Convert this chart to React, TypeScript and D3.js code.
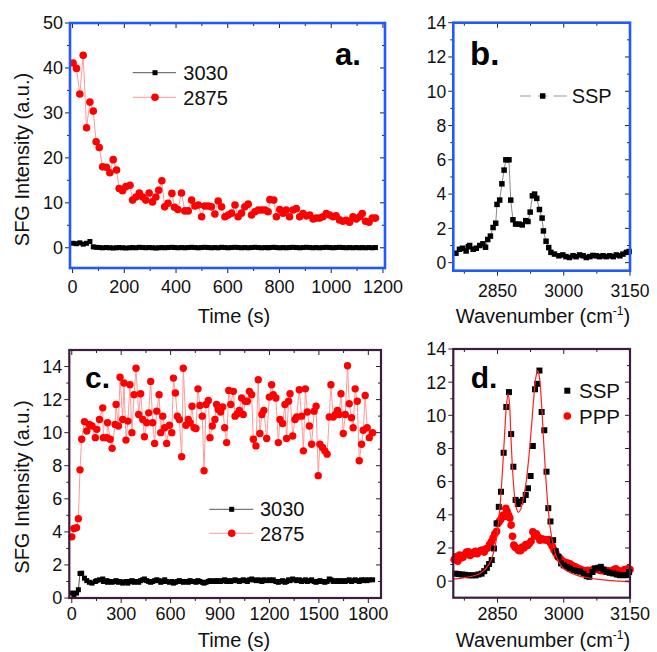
import React from "react";
import * as d3 from "d3";

const FONT = "'Liberation Sans', Arial, Helvetica, sans-serif";
const BLUE = "#2159ff";
const PURPLE = "#3e1c3e";

// ---- panel a: time trace (s) ----
const timeA = [
  2, 15, 28, 41, 54, 67, 80, 91, 103, 116,
  131, 144, 157, 170, 180, 193, 206, 222, 232, 245,
  258, 271, 283, 296, 309, 322, 333, 345, 356, 369,
  384, 394, 407, 421, 434, 447, 460, 473, 486, 499,
  511, 524, 537, 550, 563, 576, 589, 602, 615, 628,
  640, 653, 666, 679, 692, 705, 718, 731, 744, 756,
  763, 778, 788, 801, 814, 826, 839, 852, 865, 878,
  891, 904, 917, 930, 942, 955, 968, 981, 994, 1007,
  1019, 1032, 1045, 1058, 1071, 1084, 1097, 1110, 1120, 1133,
  1146, 1159, 1171,
];
const a2875 = [
  41.1, 39.9, 34.2, 42.8, 26.7, 32.4, 30.4, 23.6, 22.3, 18.0,
  17.9, 16.7, 19.6, 17.3, 13.2, 12.7, 13.6, 13.9, 10.6, 11.3,
  12.2, 11.3, 10.6, 12.2, 10.2, 11.3, 12.8, 14.9, 9.1, 9.9,
  12.1, 9.0, 8.5, 12.2, 8.2, 8.2, 10.6, 9.3, 9.5, 6.9,
  9.3, 9.3, 9.1, 7.5, 10.4, 9.1, 6.9, 7.3, 7.7, 9.5,
  6.9, 7.7, 9.1, 9.7, 7.3, 8.0, 8.4, 8.4, 8.4, 8.0,
  10.7, 10.6, 6.9, 8.5, 7.7, 8.4, 6.9, 8.4, 8.7, 6.9,
  7.6, 7.1, 7.3, 6.4, 6.6, 6.6, 6.9, 7.6, 7.3, 6.9,
  7.1, 6.2, 5.9, 6.1, 5.7, 6.9, 6.4, 6.9, 7.6, 5.9,
  5.7, 6.6, 6.6,
];
const a3030 = [
  1.0, 0.9, 1.1, 0.8, 1.0, 1.4, 0.2, 0.1, 0.05, 0.0,
  0.05, 0.0, -0.05, 0.0, 0.05, 0.0, -0.05, 0.0, 0.05, 0.0,
  0.1, 0.05, 0.0, 0.05, 0.0, -0.05, 0.0, 0.05, 0.0, 0.05,
  0.1, 0.05, 0.0, 0.05, 0.0, 0.05, 0.1, 0.05, 0.0, 0.05,
  0.1, 0.05, 0.0, 0.05, 0.0, 0.1, 0.05, 0.0, 0.05, 0.1,
  0.05, 0.0, 0.05, 0.0, 0.05, 0.1, 0.05, 0.0, 0.05, 0.0,
  0.05, 0.1, 0.05, 0.0, 0.05, 0.0, 0.05, 0.1, 0.05, 0.0,
  0.05, 0.1, 0.05, 0.0, 0.05, 0.0, 0.05, 0.1, 0.05, 0.0,
  0.05, 0.1, 0.05, 0.0, 0.05, 0.0, 0.05, 0.0, 0.05, 0.0,
  0.05, 0.0, 0.05,
];

// ---- panel b: SSP spectrum [wavenumber, intensity] ----
const bSSP: [number, number][] = [
  [2756, 0.55], [2764, 0.78], [2771, 0.84], [2779, 0.68], [2784, 0.93], [2787, 1.0],
  [2795, 0.78], [2802, 0.84], [2810, 1.0], [2817, 1.1], [2823, 0.9], [2828, 1.35],
  [2834, 1.55], [2840, 2.05], [2846, 2.3], [2849, 3.4], [2855, 3.65], [2860, 4.6],
  [2865, 5.4], [2869, 6.0], [2876, 6.0], [2880, 3.65], [2885, 2.5], [2891, 2.25],
  [2899, 2.25], [2906, 2.2], [2914, 2.45], [2919, 2.4], [2924, 2.95], [2929, 3.9],
  [2934, 4.0], [2939, 3.75], [2945, 3.1], [2951, 2.6], [2954, 1.85], [2960, 1.25],
  [2966, 0.88], [2971, 0.6], [2979, 0.5], [2989, 0.4], [2998, 0.45], [3005, 0.35],
  [3013, 0.3], [3021, 0.4], [3028, 0.35], [3036, 0.45], [3044, 0.4], [3051, 0.3],
  [3059, 0.35], [3066, 0.42], [3074, 0.4], [3081, 0.35], [3089, 0.4], [3096, 0.35],
  [3104, 0.4], [3112, 0.35], [3119, 0.45], [3127, 0.4], [3134, 0.5], [3142, 0.6],
  [3148, 0.65],
];

// ---- panel c: time trace [s, intensity] ----
const c2875: [number, number][] = [
  [0, 3.7], [13, 4.2], [29, 4.25], [40, 4.8], [50, 7.75], [60, 9.6], [77, 10.67], [91, 10.1], [107, 10.5], [123, 10.4],
  [143, 9.7], [152, 10.2], [168, 10.8], [188, 11.5], [192, 9.7], [213, 9.7], [217, 10.6], [233, 9.6], [245, 9.05], [263, 10.5],
  [269, 11.7], [283, 10.4], [293, 13.35], [309, 10.8], [317, 13.0], [329, 9.55], [341, 10.7], [353, 12.9], [365, 10.0], [378, 12.3],
  [390, 13.9], [406, 11.1], [418, 12.35], [431, 10.8], [441, 9.75], [455, 10.6], [467, 11.2], [479, 13.1], [491, 10.6], [503, 9.35],
  [516, 11.3], [530, 12.3], [540, 10.0], [552, 11.0], [564, 10.3], [576, 9.35], [593, 10.45], [607, 10.0], [617, 13.3], [629, 12.4],
  [641, 11.0], [653, 10.8], [667, 8.55], [677, 13.9], [693, 10.45], [707, 10.8], [718, 10.6], [730, 11.6], [742, 10.3], [754, 10.25],
  [766, 12.65], [778, 11.65], [792, 11.0], [803, 7.7], [815, 11.7], [829, 11.95], [839, 9.7], [853, 10.4], [869, 10.8], [879, 11.7],
  [889, 11.4], [904, 11.25], [916, 11.55], [928, 10.3], [940, 9.4], [953, 12.55], [965, 11.7], [981, 12.5], [991, 11.0], [1005, 11.15],
  [1017, 11.35], [1031, 12.1], [1041, 11.1], [1053, 11.9], [1066, 11.9], [1078, 12.5], [1092, 12.3], [1102, 9.6], [1118, 9.2], [1132, 13.2],
  [1142, 9.95], [1154, 11.1], [1166, 11.35], [1183, 9.65], [1199, 12.15], [1213, 12.9], [1223, 12.3], [1239, 12.1], [1254, 9.4], [1264, 10.8],
  [1280, 10.55], [1294, 11.7], [1304, 9.65], [1316, 11.9], [1325, 12.35], [1341, 9.8], [1355, 10.8], [1365, 10.95], [1381, 12.6], [1395, 11.0],
  [1406, 8.9], [1418, 12.65], [1430, 11.25], [1442, 10.4], [1456, 9.3], [1471, 11.3], [1483, 11.6], [1496, 7.4], [1506, 9.3], [1522, 9.1],
  [1536, 8.9], [1550, 8.7], [1563, 10.95], [1573, 12.9], [1587, 10.95], [1601, 11.1], [1613, 11.35], [1623, 11.1], [1634, 12.35], [1648, 9.95],
  [1660, 11.1], [1674, 14.05], [1684, 11.75], [1698, 10.9], [1708, 10.3], [1720, 12.65], [1733, 11.9], [1745, 8.3], [1759, 9.3], [1769, 10.15],
  [1781, 12.25], [1793, 10.3], [1806, 9.7], [1826, 10.0],
];
// same time grid as c2875
const c3030 = [
  0.3, 0.15, 0.3, 0.5, 1.48, 1.5, 1.2, 1.05, 0.95, 0.9,
  1.0, 1.05, 1.1, 1.15, 1.0, 1.05, 0.95, 1.0, 0.95, 1.0,
  1.05, 0.95, 1.0, 0.9, 0.95, 1.0, 0.9, 1.0, 1.05, 0.95,
  1.0, 0.95, 1.05, 1.1, 1.15, 1.05, 1.0, 0.95, 1.0, 1.05,
  1.1, 1.05, 0.95, 1.0, 1.1, 1.0, 0.95, 1.0, 0.9, 0.95,
  1.0, 1.05, 1.0, 0.95, 1.0, 0.95, 1.05, 1.0, 1.0, 0.95,
  1.05, 1.0, 0.95, 0.9, 0.95, 1.0, 1.05, 1.0, 1.05, 1.0,
  1.05, 1.0, 1.05, 1.1, 1.0, 1.05, 1.0, 1.05, 1.1, 1.05,
  1.0, 1.05, 1.1, 1.05, 1.0, 1.1, 1.15, 1.1, 1.05, 1.1,
  1.05, 1.0, 1.1, 1.05, 1.1, 1.05, 1.1, 1.0, 0.95, 1.0,
  1.05, 0.95, 1.0, 1.1, 1.05, 1.15, 1.1, 1.05, 1.1, 1.0,
  1.05, 1.1, 1.0, 1.05, 1.1, 1.0, 0.95, 1.0, 1.05, 1.0,
  0.95, 1.0, 1.15, 1.1, 1.0, 1.05, 1.0, 1.05, 1.0, 1.05,
  1.0, 1.05, 1.1, 1.0, 1.05, 1.1, 1.05, 1.0, 1.1, 1.05,
  1.1, 1.05, 1.1, 1.1,
];

// ---- panel d: SSP / PPP spectra and fit ----
const dSSP: [number, number][] = [
  [2755, 0.45], [2762, 0.42], [2770, 0.4], [2777, 0.38], [2785, 0.35], [2792, 0.35], [2800, 0.35],
  [2807, 0.4], [2814, 0.45], [2820, 0.6], [2826, 0.8], [2831, 1.03], [2837, 1.27], [2842, 1.97],
  [2848, 3.48], [2853, 4.48], [2858, 5.39], [2864, 7.74], [2870, 10.5], [2876, 11.4], [2881, 8.87],
  [2886, 6.9], [2891, 4.9], [2896, 4.65], [2902, 4.8], [2908, 4.9], [2914, 5.2], [2919, 5.6],
  [2925, 6.34], [2930, 8.15], [2935, 11.57], [2940, 11.9], [2945, 12.7], [2950, 10.2], [2956, 9.1],
  [2961, 6.6], [2965, 4.4], [2970, 3.6], [2976, 2.47], [2982, 1.8], [2988, 1.47], [2994, 1.07],
  [3000, 0.95], [3007, 0.86], [3014, 0.75], [3022, 0.66], [3030, 0.6], [3037, 0.57], [3045, 0.45],
  [3052, 0.3], [3058, 0.26], [3065, 0.55], [3071, 0.77], [3078, 0.8], [3084, 0.86], [3090, 0.7],
  [3097, 0.56], [3104, 0.5], [3112, 0.46], [3120, 0.4], [3127, 0.36], [3134, 0.36], [3142, 0.36],
  [3148, 0.55],
];
const dPPP: [number, number][] = [
  [2752, 1.3], [2756, 1.47], [2760, 1.2], [2764, 1.57], [2768, 1.4], [2772, 1.44], [2776, 1.6],
  [2780, 1.75], [2784, 1.77], [2788, 1.55], [2792, 1.7], [2796, 1.67], [2800, 1.8], [2804, 1.65],
  [2808, 1.77], [2812, 1.85], [2816, 1.87], [2820, 1.75], [2824, 1.95], [2828, 2.0], [2832, 2.2],
  [2836, 2.37], [2840, 2.6], [2844, 2.85], [2848, 3.0], [2851, 3.48], [2854, 3.6], [2857, 3.7],
  [2860, 3.85], [2863, 3.98], [2866, 3.9], [2869, 4.39], [2872, 4.2], [2875, 3.98], [2878, 3.8],
  [2881, 3.38], [2884, 2.7], [2887, 2.17], [2890, 2.05], [2894, 1.97], [2898, 1.85], [2902, 1.83],
  [2906, 2.05], [2910, 2.0], [2914, 2.2], [2918, 2.15], [2922, 2.27], [2926, 2.4], [2930, 2.98],
  [2934, 2.72], [2938, 2.85], [2942, 2.67], [2946, 2.47], [2950, 2.55], [2954, 2.5], [2958, 2.5],
  [2962, 2.47], [2966, 2.5], [2970, 2.3], [2974, 2.1], [2978, 1.87], [2982, 1.7], [2986, 1.5],
  [2990, 1.4], [2994, 1.3], [2998, 1.17], [3002, 1.15], [3006, 1.1], [3010, 1.07], [3014, 1.05],
  [3018, 0.95], [3022, 0.9], [3026, 0.87], [3030, 0.8], [3034, 0.75], [3038, 0.72], [3042, 0.66],
  [3046, 0.62], [3050, 0.6], [3054, 0.65], [3058, 0.6], [3062, 0.62], [3066, 0.7], [3070, 0.7],
  [3074, 0.72], [3078, 0.68], [3082, 0.65], [3086, 0.63], [3090, 0.65], [3094, 0.6], [3098, 0.62],
  [3102, 0.6], [3106, 0.58], [3110, 0.62], [3114, 0.7], [3118, 0.75], [3122, 0.65], [3126, 0.6],
  [3130, 0.58], [3134, 0.6], [3138, 0.7], [3142, 0.72], [3146, 0.75], [3150, 0.7],
];
const dFitSSP: [number, number][] = [
  [2750, 0.12], [2770, 0.18], [2790, 0.28], [2805, 0.4], [2815, 0.55], [2825, 0.8], [2835, 1.25],
  [2843, 1.9], [2850, 3.0], [2856, 4.6], [2861, 6.5], [2866, 8.8], [2870, 10.5], [2874, 11.3],
  [2877, 10.8], [2880, 9.0], [2884, 6.8], [2888, 5.3], [2892, 4.5], [2897, 4.15], [2902, 4.3],
  [2908, 4.9], [2914, 5.8], [2920, 7.2], [2926, 9.0], [2932, 11.0], [2937, 12.3], [2941, 12.7],
  [2945, 12.3], [2950, 10.6], [2955, 8.2], [2960, 6.0], [2965, 4.3], [2970, 3.1], [2976, 2.2],
  [2983, 1.5], [2990, 1.1], [3000, 0.75], [3015, 0.5], [3030, 0.35], [3050, 0.22], [3075, 0.12],
  [3100, 0.05], [3125, 0.0], [3150, -0.05],
];

// ---- ticks ----
const timeATicks = [0, 200, 400, 600, 800, 1000, 1200];
const timeAMinor = [100, 300, 500, 700, 900, 1100];
const intATicks = [0, 10, 20, 30, 40, 50];
const intAMinor = [5, 15, 25, 35, 45];
const waveTicks = [2850, 3000, 3150];
const waveMinor = [2775, 2925, 3075];
const int14Ticks = [0, 2, 4, 6, 8, 10, 12, 14];
const int14Minor = [1, 3, 5, 7, 9, 11, 13];
const timeCTicks = [0, 300, 600, 900, 1200, 1500, 1800];
const timeCMinor = [150, 450, 750, 1050, 1350, 1650];

type Frame = { x0: number; x1: number; y0: number; y1: number };

function Axes({ x, y, f, xMajor, xMinor, yMajor, yMinor, color, width, fs, xBase }: any) {
  const tk = "#222";
  return (
    <g fontFamily={FONT} fontSize={fs} fill="#111">
      {xMajor.map((v: number) => (
        <g key={"xm" + v}>
          <line x1={x(v)} x2={x(v)} y1={f.y1} y2={f.y1 + 5} stroke={tk} />
          <line x1={x(v)} x2={x(v)} y1={f.y0} y2={f.y0 + 5} stroke={tk} />
          <text x={x(v)} y={xBase} textAnchor="middle">{v}</text>
        </g>
      ))}
      {xMinor.map((v: number) => (
        <g key={"xn" + v}>
          <line x1={x(v)} x2={x(v)} y1={f.y1} y2={f.y1 + 3} stroke={tk} />
          <line x1={x(v)} x2={x(v)} y1={f.y0} y2={f.y0 + 3} stroke={tk} />
        </g>
      ))}
      {yMajor.map((v: number) => (
        <g key={"ym" + v}>
          <line x1={f.x0 - 5} x2={f.x0} y1={y(v)} y2={y(v)} stroke={tk} />
          <line x1={f.x1 - 5} x2={f.x1} y1={y(v)} y2={y(v)} stroke={tk} />
          <text x={f.x0 - 7} y={y(v)} dy="0.36em" textAnchor="end">{v}</text>
        </g>
      ))}
      {yMinor.map((v: number) => (
        <g key={"yn" + v}>
          <line x1={f.x0 - 3} x2={f.x0} y1={y(v)} y2={y(v)} stroke={tk} />
          <line x1={f.x1 - 3} x2={f.x1} y1={y(v)} y2={y(v)} stroke={tk} />
        </g>
      ))}
      <rect x={f.x0} y={f.y0} width={f.x1 - f.x0} height={f.y1 - f.y0}
        fill="none" stroke={color} strokeWidth={width} />
    </g>
  );
}

const Sq = ({ cx, cy, s }: any) => <rect x={cx - s / 2} y={cy - s / 2} width={s} height={s} fill="#000" />;
const Dot = ({ cx, cy, r }: any) => <circle cx={cx} cy={cy} r={r} fill="#ff0000" />;

export default function App() {
  const fa: Frame = { x0: 70, x1: 385, y0: 23, y1: 268 };
  const fb: Frame = { x0: 453.3, x1: 630, y0: 22.7, y1: 270.7 };
  const fc: Frame = { x0: 69.3, x1: 381, y0: 350, y1: 598 };
  const fd: Frame = { x0: 453.3, x1: 630, y0: 349, y1: 597.7 };

  const xa = d3.scaleLinear().domain([-10, 1208]).range([fa.x0, fa.x1]);
  const ya = d3.scaleLinear().domain([-4.5, 50]).range([fa.y1, fa.y0]);
  const xb = d3.scaleLinear().domain([2750, 3150]).range([fb.x0, fb.x1]);
  const yb = d3.scaleLinear().domain([-0.47, 14]).range([fb.y1, fb.y0]);
  const xc = d3.scaleLinear().domain([-15, 1877]).range([fc.x0, fc.x1]);
  const yc = d3.scaleLinear().domain([0, 15]).range([fc.y1, fc.y0]);
  const xd = d3.scaleLinear().domain([2750, 3150]).range([fd.x0, fd.x1]);
  const yd = d3.scaleLinear().domain([-1, 14]).range([fd.y1, fd.y0]);

  const lineA = d3.line<number>().x((_, i) => xa(timeA[i])).y((v) => ya(v));
  const lineB = d3.line<[number, number]>().x((d) => xb(d[0])).y((d) => yb(d[1]));
  const lineC = d3.line<[number, number]>().x((d) => xc(d[0])).y((d) => yc(d[1]));
  const lineC2 = d3.line<number>().x((_, i) => xc(c2875[i][0])).y((v) => yc(v));
  const lineD = d3.line<[number, number]>().x((d) => xd(d[0])).y((d) => yd(d[1])).curve(d3.curveCatmullRom);

  const yTitle = (cx: number, cy: number) => (
    <text transform={`translate(${cx},${cy}) rotate(-90)`} textAnchor="middle"
      fontFamily={FONT} fontSize={20} fill="#111">SFG Intensity (a.u.)</text>
  );
  const waveTitle = (cx: number, base: number) => (
    <text x={cx} y={base} textAnchor="middle" fontFamily={FONT} fontSize={20} fill="#111">
      Wavenumber (cm<tspan dy={-8} fontSize={12}>-1</tspan><tspan dy={8}>)</tspan>
    </text>
  );

  return (
    <svg width={657} height={652} style={{ position: "absolute", left: 0, top: 0, background: "#fff" }}>
      {/* panel a */}
      <path d={lineA(a3030) || ""} fill="none" stroke="#555" strokeWidth={1} />
      {a3030.map((v, i) => <Sq key={"a3" + i} cx={xa(timeA[i])} cy={ya(v)} s={5} />)}
      <path d={lineA(a2875) || ""} fill="none" stroke="#ff9a9a" strokeWidth={1} />
      {a2875.map((v, i) => <Dot key={"a2" + i} cx={xa(timeA[i])} cy={ya(v)} r={3.8} />)}
      <Axes x={xa} y={ya} f={fa} xMajor={timeATicks} xMinor={timeAMinor} yMajor={intATicks}
        yMinor={intAMinor} color={BLUE} width={2.6} fs={18} xBase={293} />
      <g fontFamily={FONT} fontSize={20} fill="#111">
        <line x1={132.7} x2={176} y1={72.7} y2={72.7} stroke="#555" />
        <Sq cx={155} cy={72.7} s={5} />
        <text x={183.3} y={80}>3030</text>
        <line x1={132.7} x2={176} y1={97.3} y2={97.3} stroke="#ff9a9a" />
        <Dot cx={155} cy={97.3} r={3.8} />
        <text x={183.3} y={104.6}>2875</text>
      </g>
      <text x={335} y={65} fontFamily={FONT} fontSize={31} fontWeight="bold">a.</text>
      {yTitle(29, 159.5)}
      <text x={234} y={322.5} textAnchor="middle" fontFamily={FONT} fontSize={20} fill="#111">Time (s)</text>

      {/* panel b */}
      <path d={lineB(bSSP) || ""} fill="none" stroke="#8a8a8a" strokeWidth={1} />
      {bSSP.map((d, i) => <Sq key={"b" + i} cx={xb(d[0])} cy={yb(d[1])} s={5.5} />)}
      <Axes x={xb} y={yb} f={fb} xMajor={waveTicks} xMinor={waveMinor} yMajor={int14Ticks}
        yMinor={int14Minor} color={BLUE} width={2.6} fs={17.5} xBase={297} />
      <g fontFamily={FONT} fontSize={20} fill="#111">
        <line x1={520} x2={566.7} y1={96} y2={96} stroke="#999" />
        <rect x={531} y={93} width={7} height={6} fill="#fff" />
        <rect x={547.5} y={93} width={6} height={6} fill="#fff" />
        <Sq cx={542.7} cy={96} s={5.5} />
        <text x={571.7} y={103.3}>SSP</text>
      </g>
      <text x={470} y={65} fontFamily={FONT} fontSize={33} fontWeight="bold">b.</text>
      {waveTitle(543, 323)}

      {/* panel c */}
      <path d={lineC2(c3030) || ""} fill="none" stroke="#555" strokeWidth={1} />
      {c3030.map((v, i) => <Sq key={"c3" + i} cx={xc(c2875[i][0])} cy={yc(v)} s={5} />)}
      <path d={lineC(c2875) || ""} fill="none" stroke="#ff9a9a" strokeWidth={1} />
      {c2875.map((d, i) => <Dot key={"c2" + i} cx={xc(d[0])} cy={yc(d[1])} r={3.7} />)}
      <Axes x={xc} y={yc} f={fc} xMajor={timeCTicks} xMinor={timeCMinor} yMajor={int14Ticks}
        yMinor={int14Minor} color={PURPLE} width={2.2} fs={18} xBase={620} />
      <g fontFamily={FONT} fontSize={20} fill="#111">
        <line x1={209.3} x2={253.3} y1={509.3} y2={509.3} stroke="#555" />
        <Sq cx={231.7} cy={509.3} s={5} />
        <text x={260} y={516.3}>3030</text>
        <line x1={209.3} x2={253.3} y1={533.3} y2={533.3} stroke="#ff9a9a" />
        <Dot cx={231.7} cy={533.3} r={3.8} />
        <text x={260} y={540.5}>2875</text>
      </g>
      <text x={85} y={388.3} fontFamily={FONT} fontSize={30} fontWeight="bold">c.</text>
      {yTitle(29, 487)}
      <text x={234} y={646.5} textAnchor="middle" fontFamily={FONT} fontSize={20} fill="#111">Time (s)</text>

      {/* panel d */}
      {dPPP.map((d, i) => <Dot key={"dp" + i} cx={xd(d[0])} cy={yd(d[1])} r={3.8} />)}
      {dSSP.map((d, i) => <Sq key={"ds" + i} cx={xd(d[0])} cy={yd(d[1])} s={6} />)}
      <path d={lineD(dFitSSP) || ""} fill="none" stroke="#ff2020" strokeWidth={1.2} />
      <Axes x={xd} y={yd} f={fd} xMajor={waveTicks} xMinor={waveMinor} yMajor={int14Ticks}
        yMinor={int14Minor} color={PURPLE} width={2.2} fs={18} xBase={620} />
      <g fontFamily={FONT} fontSize={20.5} fill="#111">
        <Sq cx={567.3} cy={390.7} s={6} />
        <text x={579} y={397.5}>SSP</text>
        <Dot cx={567.3} cy={416} r={3.8} />
        <text x={579} y={423.5}>PPP</text>
      </g>
      <text x={470.7} y={388.3} fontFamily={FONT} fontSize={30} fontWeight="bold">d.</text>
      {waveTitle(543, 646.5)}
    </svg>
  );
}
